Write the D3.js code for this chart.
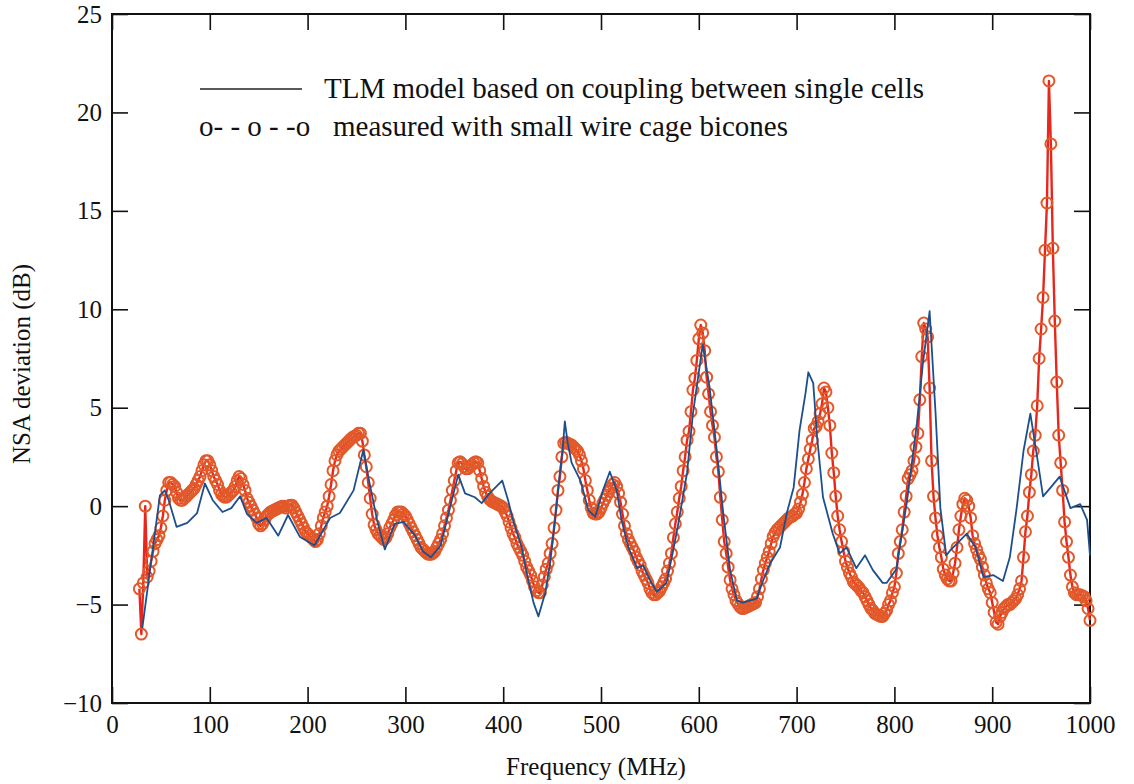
<!DOCTYPE html>
<html>
<head>
<meta charset="utf-8">
<script src="https://cdn.jsdelivr.net/npm/d3@7"></script>
<style>
  html, body { margin: 0; padding: 0; background: #ffffff; }
  svg { display: block; }
  text { font-family: "Liberation Serif", "Times New Roman", serif; fill: #111; }
</style>
</head>
<body>
<svg id="chart" width="1134" height="784"></svg>
<script>
// ---------------- data ----------------
const xTicks = [0, 100, 200, 300, 400, 500, 600, 700, 800, 900, 1000];
const yTicks = [-10, -5, 0, 5, 10, 15, 20, 25];

const legendLabels = [
  "TLM model based on coupling between single cells",
  "measured with small wire cage bicones"
];
const legendMarker = "o- - o - -o";

// Measured (red, circles): sampled every 2 MHz, starting at 28 MHz
const measuredStart = 28;
const measuredStep = 2;
const measuredVals = [
  /* 28 */ -4.2, -6.5, -3.9, 0.0, -3.6, -3.3, -2.8, -2.3, -1.9, -1.7,
  /* 48 */ -1.5, -1.1, -0.5, 0.3, 0.8, 1.2, 1.2, 1.1, 1.0, 0.7,
  /* 68 */ 0.4, 0.3, 0.3, 0.4, 0.5, 0.6, 0.7, 0.8, 0.9, 1.1,
  /* 88 */ 1.3, 1.5, 1.8, 2.1, 2.3, 2.3, 2.1, 1.8, 1.5, 1.3,
  /*108 */ 1.1, 0.8, 0.6, 0.5, 0.45, 0.5, 0.6, 0.7, 0.8, 1.0,
  /*128 */ 1.3, 1.5, 1.4, 1.1, 0.8, 0.4, 0.2, 0.0, -0.2, -0.4,
  /*148 */ -0.6, -0.9, -1.0, -0.9, -0.7, -0.5, -0.4, -0.3, -0.25, -0.2,
  /*168 */ -0.15, -0.1, -0.05, 0.0, 0.0, -0.1, 0.0, 0.05, 0.05, -0.1,
  /*188 */ -0.3, -0.5, -0.7, -0.9, -1.1, -1.3, -1.4, -1.5, -1.6, -1.7,
  /*208 */ -1.8, -1.7, -1.4, -1.0, -0.6, -0.3, 0.0, 0.5, 1.1, 1.8,
  /*228 */ 2.3, 2.6, 2.8, 2.9, 3.0, 3.1, 3.2, 3.3, 3.4, 3.5,
  /*248 */ 3.55, 3.6, 3.7, 3.7, 3.3, 2.6, 2.0, 1.2, 0.4, -0.4,
  /*268 */ -0.95, -1.2, -1.4, -1.5, -1.6, -1.7, -1.6, -1.4, -1.1, -0.9,
  /*288 */ -0.7, -0.45, -0.3, -0.3, -0.3, -0.4, -0.5, -0.7, -0.9, -1.1,
  /*308 */ -1.3, -1.5, -1.7, -1.9, -2.1, -2.2, -2.3, -2.4, -2.45, -2.45,
  /*328 */ -2.4, -2.3, -2.1, -1.9, -1.7, -1.4, -1.0, -0.6, -0.2, 0.3,
  /*348 */ 0.8, 1.3, 1.8, 2.2, 2.25, 2.15, 2.0, 1.9, 1.9, 2.0,
  /*368 */ 2.1, 2.2, 2.25, 2.2, 1.8, 1.4, 1.0, 0.7, 0.5, 0.35,
  /*388 */ 0.25, 0.2, 0.15, 0.1, 0.05, 0.0, -0.1, -0.3, -0.5, -0.8,
  /*408 */ -1.1, -1.4, -1.6, -1.9, -2.1, -2.3, -2.5, -2.8, -3.1, -3.3,
  /*428 */ -3.5, -3.8, -4.1, -4.3, -4.4, -4.4, -4.0, -3.6, -3.2, -2.9,
  /*448 */ -2.4, -1.9, -1.1, -0.2, 0.8, 1.5, 2.5, 3.2, 3.25, 3.2,
  /*468 */ 3.15, 3.1, 3.0, 2.9, 2.8, 2.6, 2.3, 1.9, 1.3, 0.8,
  /*488 */ 0.3, -0.1, -0.35, -0.4, -0.4, -0.3, -0.1, 0.15, 0.35, 0.55,
  /*508 */ 0.75, 0.9, 1.1, 1.2, 1.0, 0.65, 0.2, -0.4, -1.0, -1.4,
  /*528 */ -1.7, -1.9, -2.1, -2.3, -2.6, -2.8, -3.0, -3.3, -3.5, -3.7,
  /*548 */ -3.9, -4.2, -4.4, -4.5, -4.5, -4.4, -4.3, -4.1, -3.9, -3.7,
  /*568 */ -3.3, -2.9, -2.4, -1.6, -0.9, -0.3, 0.4, 1.0, 1.8, 2.5,
  /*588 */ 3.35, 3.8, 4.8, 5.9, 6.5, 7.4, 8.5, 9.2, 8.8, 7.9,
  /*608 */ 6.55, 5.7, 4.8, 4.1, 3.5, 2.5, 1.75, 0.45, -0.7, -1.8,
  /*628 */ -2.4, -3.1, -3.75, -4.2, -4.5, -4.8, -4.95, -5.1, -5.2, -5.2,
  /*648 */ -5.15, -5.1, -5.05, -5.0, -4.95, -4.9, -4.6, -4.2, -3.7, -3.25,
  /*668 */ -2.9, -2.6, -2.3, -1.9, -1.55, -1.35, -1.2, -1.1, -1.0, -0.9,
  /*688 */ -0.8, -0.7, -0.6, -0.55, -0.5, -0.4, -0.35, -0.15, 0.2, 0.6,
  /*708 */ 1.2, 1.9, 2.4, 2.9, 3.35, 3.95, 4.05, 4.3, 4.7, 5.2,
  /*728 */ 6.0, 5.8, 5.0, 4.1, 2.7, 1.7, 0.5, -0.5, -1.2, -1.8,
  /*748 */ -2.3, -2.8, -3.1, -3.4, -3.6, -3.85, -3.95, -4.05, -4.15, -4.3,
  /*768 */ -4.4, -4.6, -4.8, -5.0, -5.2, -5.3, -5.45, -5.5, -5.55, -5.6,
  /*788 */ -5.6, -5.45, -5.3, -5.0, -4.8, -4.4, -4.1, -3.4, -2.4, -1.8,
  /*808 */ -1.2, -0.3, 0.5, 1.4, 1.6, 1.8, 2.3, 3.0, 3.7, 5.4,
  /*828 */ 7.6, 9.3, 9.0, 8.6, 6.0, 2.3, 0.5, -0.6, -1.5, -2.1,
  /*848 */ -2.6, -3.2, -3.5, -3.7, -3.8, -3.8, -3.4, -2.9, -2.1, -1.2,
  /*868 */ -0.5, 0.1, 0.4, 0.3, 0.0, -0.6, -1.5, -1.9, -2.2, -2.5,
  /*888 */ -2.7, -3.1, -3.5, -3.9, -4.2, -4.4, -4.9, -5.4, -5.9, -6.0,
  /*908 */ -5.6, -5.4, -5.2, -5.1, -5.0, -5.0, -4.9, -4.8, -4.7, -4.5,
  /*928 */ -4.2, -3.8, -2.6, -1.3, -0.5, 0.7, 1.6, 2.8, 3.6, 5.1,
  /*948 */ 7.5, 9.0, 10.6, 13.0, 15.4, 21.6, 18.4, 13.1, 9.4, 6.3,
  /*968 */ 3.6, 2.2, 0.8, -0.8, -1.8, -2.6, -3.5, -4.1, -4.4, -4.5,
  /*988 */ -4.5, -4.5, -4.55, -4.6, -4.8, -5.2, -5.8
];

// TLM model (blue line): vertices
const modelFreq = [31, 49, 54, 58, 66, 77, 87, 95, 103, 113, 122, 131, 138, 148, 158, 170, 180, 192, 207, 223,
  233, 247, 257, 262, 271, 279, 289, 298, 310, 318, 326, 336, 346, 354, 361, 371, 378, 386, 399, 405,
  410, 419, 424, 431, 436, 443, 448, 453, 458, 461, 463, 466, 470, 479, 487, 494, 502, 509, 516, 521,
  528, 537, 543, 550, 557, 567, 574, 579, 588, 594, 604, 611, 618, 625, 632, 639, 645, 659, 666, 673,
  683, 690, 697, 703, 709, 712, 717, 721, 727, 737, 744, 751, 761, 770, 778, 788, 792, 802, 813, 823,
  829, 836, 842, 847, 853, 857, 864, 874, 883, 891, 901, 911, 918, 925, 932, 939, 945, 952, 959, 969,
  980, 990, 997, 1000];
const modelVals = [-6.2, 0.55, 0.8, 0.3, -1.05, -0.85, -0.35, 1.15, 0.3, -0.3, -0.1, 0.5, -0.4, -0.85, -0.6, -1.5, -0.45, -1.55, -2.0, -0.6,
  -0.35, 0.8, 2.85, 1.5, -0.7, -2.2, -0.9, -0.8, -1.5, -2.3, -2.6, -2.0, 0.0, 1.6, 0.65, 0.45, 0.15, 0.65, 1.3, 0.3,
  -0.7, -2.1, -3.4, -4.9, -5.6, -4.4, -2.9, -0.7, 1.7, 3.0, 4.3, 3.2, 2.2, 1.3, -0.2, -0.55, 0.8, 1.75, 0.8, -0.7,
  -2.1, -3.15, -3.0, -3.75, -4.35, -3.9, -2.2, -0.9, 1.7, 4.7, 8.2, 6.05, 3.0, -0.35, -3.25, -4.8, -4.9, -4.7, -3.75, -2.9,
  -2.1, -0.35, 0.95, 3.85, 5.7, 6.8, 6.25, 3.5, 0.45, -1.4, -2.4, -2.1, -3.15, -2.5, -3.25, -3.9, -3.9, -3.2, 0.3, 4.2,
  7.2, 9.9, 4.8, -0.1, -2.5, -2.25, -1.9, -1.4, -2.1, -3.6, -3.5, -3.8, -2.6, -0.1, 2.8, 4.7, 2.8, 0.5, 0.9, 1.5,
  -0.1, 0.1, -0.7, -2.5];

const xTitle = "Frequency (MHz)";
const yTitle = "NSA deviation (dB)";

// ---------------- drawing ----------------
const svg = d3.select("#chart");
const x = d3.scaleLinear().domain([0, 1000]).range([112, 1090]);
const y = d3.scaleLinear().domain([-10, 25]).range([703, 14]);

const measured = measuredVals.map((v, i) => ({ f: measuredStart + i * measuredStep, v }));
const model = modelFreq.map((f, i) => ({ f, v: modelVals[i] }));

const FONT = "Liberation Serif, Times New Roman, serif";
const fmt = d => String(d).replace("-", "\u2212");

// axes (ticks inward)
const gB = svg.append("g").attr("transform", `translate(0,${y(-10)})`)
  .call(d3.axisBottom(x).tickValues(xTicks).tickSizeInner(-16).tickSizeOuter(0).tickPadding(12).tickFormat(fmt));
const gT = svg.append("g").attr("transform", `translate(0,${y(25)})`)
  .call(d3.axisTop(x).tickValues(xTicks).tickSizeInner(-16).tickSizeOuter(0).tickFormat(""));
const gL = svg.append("g").attr("transform", `translate(${x(0)},0)`)
  .call(d3.axisLeft(y).tickValues(yTicks).tickSizeInner(-16).tickSizeOuter(0).tickPadding(10).tickFormat(fmt));
const gR = svg.append("g").attr("transform", `translate(${x(1000)},0)`)
  .call(d3.axisRight(y).tickValues(yTicks).tickSizeInner(-16).tickSizeOuter(0).tickFormat(""));

[gB, gT, gL, gR].forEach(g => {
  g.select(".domain").remove();
  g.selectAll(".tick line").attr("stroke", "#111").attr("stroke-width", 1.6);
  g.selectAll("text").attr("font-family", FONT).attr("font-size", 25).attr("fill", "#111");
});

// frame
svg.append("rect")
  .attr("x", x(0)).attr("y", y(25))
  .attr("width", x(1000) - x(0)).attr("height", y(-10) - y(25))
  .attr("fill", "none").attr("stroke", "#111").attr("stroke-width", 2);

const line = d3.line().x(d => x(d.f)).y(d => y(d.v));

// measured series
svg.append("path").datum(measured)
  .attr("d", line).attr("fill", "none")
  .attr("stroke", "#e8261c").attr("stroke-width", 2.4).attr("stroke-linejoin", "round");
svg.append("g").selectAll("circle").data(measured).join("circle")
  .attr("cx", d => x(d.f)).attr("cy", d => y(d.v)).attr("r", 5.5)
  .attr("fill", "none").attr("stroke", "#e2592a").attr("stroke-width", 2);

// model series
svg.append("path").datum(model)
  .attr("d", line).attr("fill", "none")
  .attr("stroke", "#1d4f8e").attr("stroke-width", 1.8).attr("stroke-linejoin", "round");

// legend
svg.append("line").attr("x1", 200).attr("x2", 302).attr("y1", 89).attr("y2", 89)
  .attr("stroke", "#222").attr("stroke-width", 1.3);
svg.append("text").attr("x", 324).attr("y", 98)
  .attr("font-family", FONT).attr("font-size", 29).text(legendLabels[0]);
svg.append("text").attr("x", 199).attr("y", 136)
  .attr("font-family", FONT).attr("font-size", 29).text(legendMarker);
svg.append("text").attr("x", 333).attr("y", 136)
  .attr("font-family", FONT).attr("font-size", 29).text(legendLabels[1]);

// axis titles
svg.append("text").attr("x", 596).attr("y", 775).attr("text-anchor", "middle")
  .attr("font-family", FONT).attr("font-size", 25).text(xTitle);
svg.append("text").attr("transform", "translate(30,364) rotate(-90)").attr("text-anchor", "middle")
  .attr("font-family", FONT).attr("font-size", 25).text(yTitle);
</script>
</body>
</html>
